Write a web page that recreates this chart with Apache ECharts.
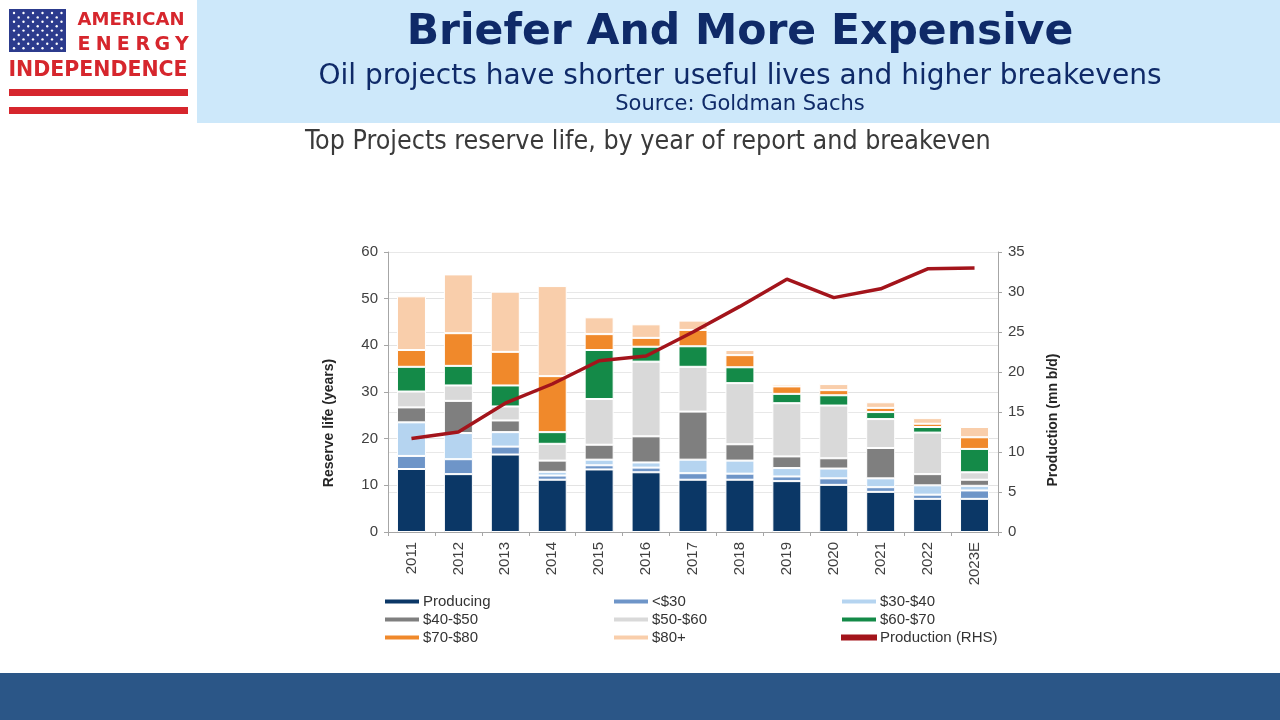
<!DOCTYPE html>
<html lang="en">
<head>
    <meta charset="utf-8"/>
    <title>Briefer And More Expensive</title>
    <script src="https://cdn.jsdelivr.net/npm/echarts@6/dist/echarts.min.js"></script>
    <style>
        html, body { margin: 0; padding: 0; background: #fff; }
        #chart { width: 1280px; height: 720px; }
    </style>
</head>
<body>
<div id="chart"></div>
<script type="text/javascript">
    // categories (year of report)
    const years = ['2011', '2012', '2013', '2014', '2015', '2016', '2017',
        '2018', '2019', '2020', '2021', '2022', '2023E'];

    // reserve life by breakeven bucket (years)
    const producing = [13.5, 12.4, 16.6, 11.2, 13.4, 12.8, 11.2, 11.2, 10.9, 10.1, 8.6, 7.1, 7.1];
    const under30   = [2.8, 3.2, 1.7, 0.9, 0.9, 1.0, 1.4, 1.3, 1.0, 1.4, 1.0, 0.9, 1.8];
    const b30to40   = [7.2, 5.6, 3.1, 0.8, 1.2, 1.1, 2.9, 2.8, 1.8, 2.1, 1.9, 2.0, 1.0];
    const b40to50   = [3.2, 6.9, 2.5, 2.4, 3.2, 5.6, 10.3, 3.5, 2.5, 2.2, 6.5, 2.4, 1.3];
    const b50to60   = [3.4, 3.3, 3.0, 3.6, 9.8, 16.0, 9.6, 13.1, 11.4, 11.3, 6.2, 8.9, 1.6];
    const b60to70   = [5.3, 4.2, 4.5, 2.5, 10.5, 3.2, 4.4, 3.4, 2.0, 2.2, 1.5, 1.2, 5.0];
    const b70to80   = [3.6, 7.0, 7.2, 12.0, 3.4, 1.9, 3.5, 2.6, 1.6, 1.1, 0.9, 0.7, 2.5];
    const over80    = [11.5, 12.6, 12.9, 19.3, 3.6, 2.9, 2.0, 1.1, 0.5, 1.3, 1.2, 1.2, 2.2];

    // production (mn b/d), right axis
    const production = [11.7, 12.5, 16.1, 18.5, 21.4, 22.0, 25.0, 28.2, 31.6, 29.3, 30.4, 32.9, 33.0];

    const leftTicks = {min: 0, max: 60, interval: 10};
    const rightTicks = {min: 0, max: 35, interval: 5};

    const buckets = [
        {name: 'Producing', data: producing, color: '#0b3766'},
        {name: '<$30', data: under30, color: '#6e95c8'},
        {name: '$30-$40', data: b30to40, color: '#b5d4f0'},
        {name: '$40-$50', data: b40to50, color: '#7f7f7f'},
        {name: '$50-$60', data: b50to60, color: '#d9d9d9'},
        {name: '$60-$70', data: b60to70, color: '#148a48'},
        {name: '$70-$80', data: b70to80, color: '#f0892b'},
        {name: '$80+', data: over80, color: '#f9ceab'}
    ];
    const lineColor = '#a3141b';

    const navy = '#0f2a68';
    const red = '#d6262d';
    const axisFont = 'Liberation Sans, Arial, sans-serif';

    // logo stars
    let stars = [];
    for (let r = 0; r < 9; r++) {
        let cols = r % 2 === 0 ? 6 : 5;
        for (let c = 0; c < cols; c++) {
            stars.push({
                type: 'circle',
                shape: {cx: 14 + c * 9.5 + (r % 2 ? 4.7 : 0), cy: 13 + r * 4.4, r: 1.2},
                style: {fill: '#ffffff'}
            });
        }
    }

    // spaced letters of "ENERGY" in the logo
    let energy = 'ENERGY'.split('').map(function (ch, i) {
        return {
            type: 'text', x: 84 + i * 19.6, y: 45,
            style: {text: ch, font: 'bold 19px "DejaVu Sans", sans-serif', fill: red, textAlign: 'center', textVerticalAlign: 'middle'}
        };
    });

    let chart = echarts.init(document.getElementById('chart'));
    chart.setOption({
        backgroundColor: '#ffffff',
        animation: false,
        textStyle: {fontFamily: axisFont},
        grid: {left: 388, right: 282, top: 252, bottom: 188},
        legend: [
            {data: ['Producing', '$40-$50', '$70-$80'], left: 378},
            {data: ['<$30', '$50-$60', '$80+'], left: 607},
            {data: ['$30-$40', '$60-$70', {name: 'Production (RHS)', icon: 'rect'}], left: 835}
        ].map(function (l) {
            return Object.assign({
                top: 589,
                orient: 'vertical',
                icon: 'rect',
                itemWidth: 36,
                itemHeight: 6,
                itemGap: 3,
                selectedMode: false,
                textStyle: {fontSize: 15, color: '#333', fontFamily: axisFont, padding: [0, 0, 0, -2]}
            }, l);
        }),
        xAxis: {
            type: 'category',
            data: years,
            axisLine: {lineStyle: {color: '#a6a6a6'}},
            axisTick: {show: true, length: 4, lineStyle: {color: '#a6a6a6'}},
            axisLabel: {rotate: 90, fontSize: 15, color: '#404040', margin: 10}
        },
        yAxis: [
            {
                type: 'value',
                min: leftTicks.min, max: leftTicks.max, interval: leftTicks.interval,
                axisLine: {show: true, lineStyle: {color: '#a6a6a6'}},
                axisTick: {show: true, length: 4, lineStyle: {color: '#a6a6a6'}},
                axisLabel: {fontSize: 15, color: '#404040', margin: 10},
                splitLine: {lineStyle: {color: '#e3e3e3'}}
            },
            {
                type: 'value',
                position: 'right',
                min: rightTicks.min, max: rightTicks.max, interval: rightTicks.interval,
                axisLine: {show: true, lineStyle: {color: '#a6a6a6'}},
                axisTick: {show: true, length: 4, lineStyle: {color: '#a6a6a6'}},
                axisLabel: {fontSize: 15, color: '#404040', margin: 10},
                splitLine: {lineStyle: {color: '#e8e8e8'}}
            }
        ],
        series: buckets.map(function (b) {
            return {
                name: b.name,
                type: 'bar',
                stack: 'life',
                barWidth: 29,
                data: b.data,
                itemStyle: {color: b.color, borderColor: '#ffffff', borderWidth: 1}
            };
        }).concat([{
            name: 'Production (RHS)',
            type: 'line',
            yAxisIndex: 1,
            data: production,
            symbol: 'none',
            color: lineColor,
            lineStyle: {color: lineColor, width: 3.5}
        }]),
        graphic: [
            // header banner
            {type: 'rect', shape: {x: 197, y: 0, width: 1083, height: 123}, style: {fill: '#cde8fa'}},
            {type: 'text', x: 740, y: 33, style: {text: 'Briefer And More Expensive', font: 'bold 42.5px "DejaVu Sans", sans-serif', fill: navy, textAlign: 'center', textVerticalAlign: 'middle'}},
            {type: 'text', x: 740, y: 77, style: {text: 'Oil projects have shorter useful lives and higher breakevens', font: '28px "DejaVu Sans", sans-serif', fill: navy, textAlign: 'center', textVerticalAlign: 'middle'}},
            {type: 'text', x: 740, y: 105, style: {text: 'Source: Goldman Sachs', font: '21px "DejaVu Sans", sans-serif', fill: navy, textAlign: 'center', textVerticalAlign: 'middle'}},
            // logo
            {type: 'rect', shape: {x: 9, y: 9, width: 57, height: 43}, style: {fill: '#2c3b8d'}},
            {type: 'group', children: stars},
            {type: 'text', x: 131, y: 20, style: {text: 'AMERICAN', font: 'bold 18px "DejaVu Sans", sans-serif', fill: red, textAlign: 'center', textVerticalAlign: 'middle'}},
            {type: 'group', children: energy},
            {type: 'text', x: 98, y: 71, style: {text: 'INDEPENDENCE', font: 'bold 20.5px "DejaVu Sans", sans-serif', fill: red, textAlign: 'center', textVerticalAlign: 'middle'}},
            {type: 'rect', shape: {x: 9, y: 89, width: 179, height: 7}, style: {fill: red}},
            {type: 'rect', shape: {x: 9, y: 107, width: 179, height: 7}, style: {fill: red}},
            // chart heading
            {type: 'text', x: 305, y: 142, style: {text: 'Top Projects reserve life, by year of report and breakeven', font: '26.6px "Liberation Sans Narrow", "DejaVu Sans Condensed", sans-serif', fill: '#3a3a3a', textAlign: 'left', textVerticalAlign: 'middle'}},
            // axis names
            {type: 'text', x: 329, y: 423, rotation: Math.PI / 2, style: {text: 'Reserve life (years)', font: 'bold 14px ' + axisFont, fill: '#262626', textAlign: 'center', textVerticalAlign: 'middle'}},
            {type: 'text', x: 1053, y: 420, rotation: Math.PI / 2, style: {text: 'Production (mn b/d)', font: 'bold 14px ' + axisFont, fill: '#262626', textAlign: 'center', textVerticalAlign: 'middle'}},
            // footer band
            {type: 'rect', shape: {x: 0, y: 673, width: 1280, height: 47}, style: {fill: '#2b5687'}}
        ]
    });
</script>
</body>
</html>
